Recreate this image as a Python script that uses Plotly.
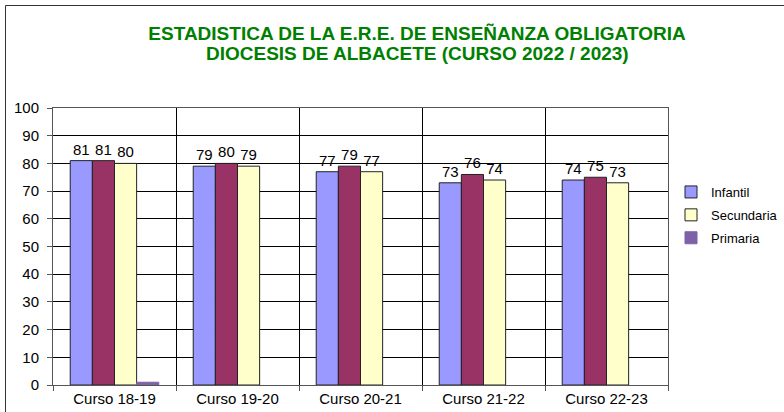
import plotly.graph_objects as go

categories = ["Curso 18-19", "Curso 19-20", "Curso 20-21", "Curso 21-22", "Curso 22-23"]
infantil = [81, 79, 77, 73, 74]
serie2 = [81, 80, 79, 76, 75]
secundaria = [80, 79, 77, 74, 73]
primaria = [1, None, None, None, None]
y_ticks = [0, 10, 20, 30, 40, 50, 60, 70, 80, 90, 100]
title_line1 = "ESTADISTICA DE LA E.R.E. DE ENSEÑANZA OBLIGATORIA"
title_line2 = "DIOCESIS DE ALBACETE (CURSO 2022 / 2023)"

FONT = "Liberation Sans, Arial, sans-serif"
W, H = 784, 412
L, R, T, B = 53, 116, 108, 27
pw, ph = W - L - R, H - T - B

def px(x):
    return (x - L) / pw

def py(y):
    return (H - B - y) / ph

fig = go.Figure()
fig.add_trace(go.Bar(x=categories, y=infantil, name="Infantil",
                     marker=dict(color="#9999FF", line=dict(color="#222222", width=1)),
                     text=infantil, textposition="outside", legendgroup="a"))
fig.add_trace(go.Bar(x=categories, y=serie2, name="Serie 2", showlegend=False,
                     marker=dict(color="#993366", line=dict(color="#222222", width=1)),
                     text=serie2, textposition="outside", legendgroup="b"))
fig.add_trace(go.Bar(x=categories, y=secundaria, name="Secundaria",
                     marker=dict(color="#FFFFCC", line=dict(color="#222222", width=1)),
                     text=secundaria, textposition="outside", legendgroup="c"))
fig.add_trace(go.Bar(x=categories, y=primaria, name="Primaria",
                     marker=dict(color="#7E62A8", line=dict(color="#7E62A8", width=1)),
                     legendgroup="d"))

fig.update_traces(selector=dict(type="bar"), textfont=dict(size=15, color="#000000", family=FONT),
                  cliponaxis=False, constraintext="none")

fig.update_layout(
    width=W, height=H,
    margin=dict(l=L, r=R, t=T, b=B, autoexpand=False),
    paper_bgcolor="white", plot_bgcolor="white",
    font=dict(family=FONT, size=15, color="#000000"),
    barmode="group", bargap=0.28, bargroupgap=0,
    title=dict(text="<b>" + title_line1 + "</b>",
               x=417 / W, xanchor="center", y=1 - 33 / H, yanchor="middle",
               font=dict(family=FONT, size=19, color="#008000")),
    annotations=[dict(text="<b>" + title_line2 + "</b>", xref="paper", yref="paper",
                      x=px(417), y=py(53), xanchor="center", yanchor="middle",
                      showarrow=False, font=dict(family=FONT, size=19, color="#008000"))],
    legend=dict(x=px(783), y=py(177), xanchor="right", yanchor="top",
                font=dict(size=13, family=FONT), traceorder="grouped", tracegroupgap=3,
                bgcolor="rgba(0,0,0,0)", itemwidth=30),
    xaxis=dict(type="category", tickson="boundaries", ticks="outside", ticklen=5,
               tickcolor="#555555", showgrid=True, gridcolor="#000000", gridwidth=1,
               showline=True, linecolor="#555555", linewidth=1, mirror=True,
               tickfont=dict(size=15), automargin=False),
    yaxis=dict(range=[0, 100], tickvals=y_ticks, ticks="outside", ticklen=5,
               tickcolor="#555555", showgrid=True, gridcolor="#000000", gridwidth=1,
               showline=True, linecolor="#555555", linewidth=1, mirror=True,
               zeroline=False, tickfont=dict(size=15), automargin=False,
               ticklabelstandoff=5),
    shapes=[dict(type="rect", xref="paper", yref="paper",
                 x0=px(5.5), x1=px(800), y0=py(430), y1=py(5.5),
                 line=dict(color="#333333", width=1), layer="below")],
)

fig.write_html("out.html", config={"displayModeBar": False},
               post_script="document.body.style.margin='0';document.body.style.overflow='hidden';")
